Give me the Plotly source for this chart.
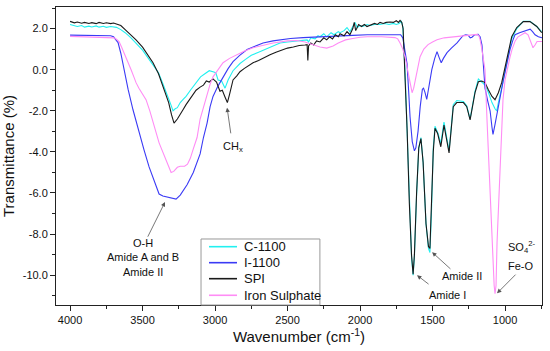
import plotly.graph_objects as go

# ---------------- data ----------------
c1100_wn = [4000, 3970, 3950, 3920, 3900, 3870, 3850, 3820, 3800, 3770, 3750, 3720, 3700, 3680, 3650, 3620,
            3580, 3545, 3500, 3460, 3428, 3390, 3359, 3330, 3310, 3290, 3275, 3260, 3240, 3220, 3200, 3170,
            3140, 3124, 3100, 3070, 3040, 3014, 2995, 2979, 2955, 2931, 2910, 2876, 2850, 2828, 2790, 2750,
            2700, 2669, 2620, 2580, 2552, 2500, 2450, 2400, 2365, 2355, 2340, 2310, 2290, 2276, 2250, 2230,
            2200, 2180, 2150, 2138, 2110, 2090, 2070, 2050, 2034, 2020, 2000, 1980, 1952, 1930, 1900, 1862,
            1830, 1800, 1770, 1750, 1730, 1715, 1705, 1690, 1675, 1660, 1645, 1634, 1625, 1610, 1595, 1580,
            1565, 1545, 1528, 1518, 1508, 1495, 1483, 1462, 1443, 1421, 1386, 1357, 1333, 1287, 1264, 1241,
            1207, 1184, 1160, 1138, 1115, 1090, 1069, 1057, 1046, 1023, 988, 954, 919, 874, 828, 781, 747]
c1100_t = [2.2, 2.14, 2.1, 2.15, 2.07, 2.12, 2.08, 2.13, 2.07, 2.11, 2.06, 2.1, 2.08, 2.06, 1.95, 1.8,
           1.55, 1.3, 0.95, 0.55, 0.25, -0.15, -0.7, -1.2, -1.6, -2.0, -1.9, -1.85, -1.6, -1.45, -1.3, -1.0,
           -0.7, -0.6, -0.35, -0.2, -0.05, -0.1, -0.15, -0.5, -0.55, -0.9, -0.5, -0.05, 0.15, 0.3, 0.5, 0.7,
           0.85, 0.95, 1.1, 1.2, 1.3, 1.35, 1.4, 1.45, 1.45, 1.35, 1.55, 1.5, 1.65, 1.6, 1.75, 1.6,
           1.8, 1.7, 1.85, 1.8, 1.9, 2.05, 1.85, 2.1, 2.3, 2.05, 2.15, 2.1, 2.2, 2.15, 2.2, 2.2,
           2.25, 2.2, 2.25, 2.2, 2.25, 2.35, 2.1, 0.0, -3.1, -6.6, -9.1, -10.0, -9.1, -6.1, -3.8, -3.3,
           -4.5, -7.5, -8.7, -8.9, -7.1, -3.8, -2.75, -3.1, -3.6, -2.55, -3.95, -1.7, -1.5, -1.55, -1.75, -2.4,
           -1.05, -0.45, -0.6, -0.75, -1.1, -1.6, -1.9, -2.0, -1.6, -0.9, 0.35, 1.5, 2.0, 2.35, 2.35, 2.1, 1.85]

i1100_wn = [4000, 3900, 3800, 3720, 3700, 3680, 3669, 3650, 3634, 3600, 3566, 3524, 3490, 3455, 3420, 3400,
            3386, 3360, 3330, 3300, 3269, 3240, 3210, 3193, 3150, 3103, 3080, 3055, 3034, 3014, 2980, 2945,
            2910, 2876, 2830, 2779, 2720, 2669, 2600, 2552, 2480, 2393, 2300, 2255, 2150, 2050, 1950, 1850,
            1760, 1720, 1705, 1690, 1676, 1665, 1655, 1640, 1625, 1615, 1600, 1585, 1570, 1562, 1552, 1540,
            1525, 1505, 1485, 1469, 1455, 1440, 1425, 1400, 1370, 1331, 1290, 1270, 1255, 1240, 1228, 1210,
            1186, 1172, 1159, 1148, 1138, 1120, 1103, 1090, 1083, 1070, 1060, 1048, 1030, 1014, 990, 966,
            945, 931, 900, 876, 850, 827, 810, 793, 770, 745]
i1100_t = [1.68, 1.67, 1.66, 1.65, 1.6, 1.45, 1.32, 0.8, 0.2, -0.95, -1.95, -3.07, -3.9, -4.73, -5.4, -5.85,
           -6.05, -6.15, -6.2, -6.25, -6.3, -6.1, -5.8, -5.6, -5.0, -4.1, -3.3, -2.6, -1.8, -1.3, -0.8, -0.34,
           0.05, 0.39, 0.7, 0.98, 1.15, 1.3, 1.4, 1.46, 1.52, 1.56, 1.58, 1.6, 1.63, 1.67, 1.7, 1.7,
           1.72, 1.7, 1.55, 0.9, 0.3, -1.0, -2.3, -3.5, -3.95, -3.8, -3.0, -1.8, -0.95, -0.9, -1.1, -1.45,
           -0.8, 0.0, 0.55, 0.88, 0.6, 0.34, 0.55, 0.83, 1.05, 1.3, 1.65, 1.7, 1.68, 1.55, 1.58, 1.7,
           1.72, 1.6, 1.2, 0.2, -0.9, -1.5, -2.0, -2.8, -3.15, -2.7, -2.3, -1.95, -1.2, -0.6, 0.2, 0.98,
           1.45, 1.7, 1.8, 1.85, 1.9, 1.97, 1.85, 1.7, 1.6, 1.55]

spi_wn = [4000, 3970, 3950, 3920, 3900, 3870, 3850, 3820, 3800, 3770, 3750, 3720, 3700, 3680, 3650, 3620,
          3580, 3545, 3500, 3460, 3428, 3390, 3359, 3320, 3300, 3283, 3260, 3240, 3221, 3200, 3172, 3150,
          3131, 3103, 3080, 3060, 3040, 3014, 2990, 2966, 2950, 2930, 2915, 2900, 2876, 2850, 2828, 2800,
          2770, 2738, 2700, 2660, 2621, 2580, 2540, 2500, 2460, 2420, 2380, 2365, 2360, 2355, 2340, 2320,
          2300, 2276, 2250, 2230, 2210, 2190, 2170, 2150, 2138, 2110, 2090, 2070, 2050, 2040, 2030, 2010,
          1990, 1970, 1952, 1930, 1900, 1880, 1862, 1840, 1820, 1793, 1770, 1750, 1735, 1724, 1712, 1703,
          1690, 1675, 1660, 1645, 1634, 1625, 1610, 1595, 1580, 1565, 1545, 1528, 1518, 1508, 1495, 1483,
          1465, 1443, 1421, 1386, 1357, 1333, 1287, 1264, 1241, 1207, 1184, 1160, 1138, 1115, 1090, 1069,
          1046, 1023, 988, 954, 919, 874, 828, 781, 747]
spi_t = [2.35, 2.28, 2.32, 2.26, 2.3, 2.25, 2.29, 2.24, 2.3, 2.25, 2.28, 2.24, 2.27, 2.22, 2.15, 1.95,
         1.7, 1.45, 1.1, 0.7, 0.34, -0.2, -0.8, -1.6, -2.2, -2.6, -2.4, -2.2, -1.95, -1.7, -1.4, -1.15,
         -1.0, -0.85, -0.75, -0.55, -0.6, -0.45, -0.6, -1.05, -1.0, -1.35, -1.6, -1.2, -0.5, -0.3, -0.1, 0.05,
         0.2, 0.34, 0.45, 0.6, 0.73, 0.85, 0.95, 1.05, 1.1, 1.18, 1.2, 1.22, 0.45, 1.15, 1.3, 1.2,
         1.4, 1.35, 1.55, 1.45, 1.6, 1.5, 1.7, 1.6, 1.75, 1.65, 1.85, 1.7, 2.0, 2.3, 1.9, 2.2,
         2.1, 2.2, 2.1, 2.15, 2.25, 2.2, 2.3, 2.25, 2.3, 2.32, 2.3, 2.38, 2.3, 2.4, 2.3, 2.0,
         0.0, -3.0, -6.5, -9.0, -9.95, -9.0, -6.0, -3.8, -3.35, -4.5, -7.5, -8.6, -8.7, -7.0, -4.0, -2.85,
         -3.1, -3.75, -2.7, -4.05, -1.8, -1.6, -1.6, -1.8, -2.44, -1.12, -0.59, -0.55, -0.63, -0.98, -1.3, -1.46,
         -1.12, -0.63, 0.49, 1.6, 2.05, 2.34, 2.34, 2.1, 1.8]

iron_wn = [4000, 3900, 3800, 3720, 3697, 3680, 3662, 3645, 3628, 3600, 3579, 3560, 3545, 3525, 3510, 3490,
           3476, 3450, 3428, 3405, 3386, 3360, 3338, 3320, 3303, 3285, 3260, 3240, 3210, 3190, 3170, 3150,
           3124, 3103, 3083, 3055, 3034, 3014, 2980, 2945, 2900, 2848, 2800, 2738, 2670, 2600, 2500, 2434,
           2380, 2320, 2276, 2230, 2186, 2150, 2100, 2050, 2000, 1950, 1850, 1759, 1740, 1724, 1705, 1690,
           1675, 1662, 1650, 1641, 1630, 1614, 1600, 1586, 1560, 1531, 1500, 1469, 1420, 1359, 1300, 1241,
           1193, 1180, 1172, 1160, 1150, 1138, 1124, 1110, 1097, 1085, 1075, 1069, 1062, 1055, 1045, 1034,
           1024, 1014, 1000, 986, 966, 952, 930, 910, 880, 862, 841, 825, 807, 793, 779, 745]
iron_t = [1.62, 1.6, 1.58, 1.58, 1.55, 1.48, 1.37, 1.1, 0.83, 0.4, 0.0, -0.35, -0.63, -0.9, -1.07, -1.25,
          -1.46, -2.0, -2.6, -3.1, -3.56, -4.0, -4.39, -4.75, -5.0, -4.95, -4.75, -4.7, -4.7, -4.6, -4.3, -3.85,
          -3.3, -2.4, -1.9, -1.2, -0.7, -0.35, 0.0, 0.34, 0.55, 0.73, 0.9, 1.07, 1.2, 1.3, 1.4, 1.42,
          1.35, 1.2, 1.1, 1.05, 1.15, 1.3, 1.45, 1.52, 1.58, 1.6, 1.6, 1.56, 1.5, 1.3, 1.0, 0.63,
          0.1, -0.34, -0.9, -1.12, -0.9, -0.34, 0.2, 0.63, 1.0, 1.22, 1.35, 1.46, 1.55, 1.6, 1.65, 1.7,
          1.72, 1.65, 1.46, 1.0, 0.5, 0.0, -2.5, -5.0, -7.0, -9.0, -10.5, -10.9, -10.5, -8.4, -6.5, -4.4,
          -2.8, -1.46, -0.5, 0.0, 0.6, 0.98, 1.4, 1.6, 1.75, 1.8, 1.7, 1.4, 1.07, 1.2, 1.37, 1.37]

series_names = ["C-1100", "I-1100", "SPI", "Iron Sulphate"]
series_colors = ["#22F0F0", "#3A3AF5", "#1A1A1A", "#FF8CF5"]

x_ticks = [4000, 3500, 3000, 2500, 2000, 1500, 1000]
y_ticks = [2, 0, -2, -4, -6, -8, -10]
y_tick_labels = ["2.0", "0.0", "-2.0", "-4.0", "-6.0", "-8.0", "-10.0"]

# ---------------- figure ----------------
FONT = "Arial, 'Liberation Sans', sans-serif"
fig = go.Figure()
for name, color, wn, t in zip(series_names, series_colors,
                              [c1100_wn, i1100_wn, spi_wn, iron_wn],
                              [c1100_t, i1100_t, spi_t, iron_t]):
    fig.add_trace(go.Scatter(x=wn, y=t, mode="lines", name=name, showlegend=False,
                             line=dict(color=color, width=1.1)))

arrow_color = "#555555"
def arrow(hx, hy, tx, ty):
    fig.add_annotation(x=hx, y=hy, ax=tx, ay=ty, axref="x", ayref="y", xref="x", yref="y",
                       text="", showarrow=True, arrowhead=2, arrowsize=1.1, arrowwidth=0.8,
                       arrowcolor=arrow_color)

def label(x, y, txt):
    fig.add_annotation(x=x, y=y, xref="x", yref="y", text=txt, showarrow=False,
                       font=dict(family=FONT, size=11, color="#111111"), align="center")

label(3497, -9.12, "O-H<br>Amide A and B<br>Amide II")
arrow(3345, -6.44, 3469, -8.2)
label(2876, -3.76, "CH<sub>x</sub>")
arrow(2917, -1.85, 2890, -3.17)
label(1400, -10.98, "Amide I")
arrow(1607, -10.0, 1517, -10.49)
label(1297, -10.05, "Amide II")
arrow(1503, -8.88, 1366, -9.76)
label(889, -8.63, "SO<sub>4</sub><sup>2-</sup>")
label(889, -9.56, "Fe-O")
arrow(1055, -10.88, 917, -9.9)

# ---- legend box (drawn in paper coordinates) ----
leg_x0, leg_x1, leg_y0, leg_y1 = 0.2984, 0.543, 0.0, 0.2215
fig.add_shape(type="rect", xref="paper", yref="paper", x0=leg_x0, x1=leg_x1, y0=leg_y0, y1=leg_y1,
              line=dict(color="#999999", width=1), fillcolor="white", layer="above")
leg_rows = [0.1957, 0.1420, 0.0883, 0.0326]
for name, color, ry in zip(series_names, series_colors, leg_rows):
    fig.add_shape(type="line", xref="paper", yref="paper", x0=0.3148, x1=0.3724, y0=ry, y1=ry,
                  line=dict(color=color, width=1.6), layer="above")
    fig.add_annotation(x=0.3827, y=ry, xref="paper", yref="paper", text=name, showarrow=False,
                       xanchor="left", yanchor="middle",
                       font=dict(family=FONT, size=13, color="#111111"))

axis_common = dict(showline=True, linecolor="#222222", linewidth=1, mirror=True,
                   ticks="outside", ticklen=5, tickcolor="#222222", showgrid=False, zeroline=False,
                   tickfont=dict(family=FONT, size=11, color="#111111"))

fig.update_xaxes(range=[4097, 745], tickvals=x_ticks, ticktext=[str(v) for v in x_ticks],
                 minor=dict(ticks="outside", ticklen=3, dtick=250, tick0=1000, tickcolor="#222222"),
                 title=dict(text="Wavenumber (cm<sup>-1</sup>)", font=dict(family=FONT, size=15, color="#111111"),
                            standoff=6),
                 **axis_common)
fig.update_yaxes(range=[-11.45, 3.05], tickvals=y_ticks, ticktext=y_tick_labels,
                 minor=dict(ticks="outside", ticklen=3, dtick=1, tick0=0, tickcolor="#222222"),
                 title=dict(text="Transmittance (%)", font=dict(family=FONT, size=15, color="#111111"),
                            standoff=6),
                 **axis_common)

fig.update_layout(
    width=550, height=351,
    margin=dict(l=56, r=8, t=7, b=46, autoexpand=False),
    plot_bgcolor="white", paper_bgcolor="white",
    font=dict(family=FONT, color="#111111"),
    showlegend=False,
)

fig.write_html("out.html", config={"displayModeBar": False},
               post_script="document.body.style.margin='0px';document.body.style.padding='0px';")
